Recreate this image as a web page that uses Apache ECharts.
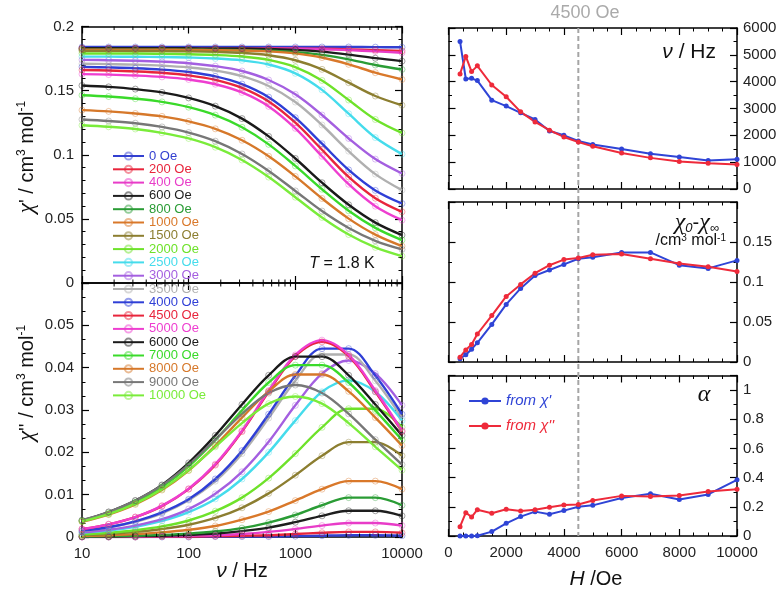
<!DOCTYPE html>
<html><head><meta charset="utf-8">
<script src="https://cdn.jsdelivr.net/npm/echarts@6/dist/echarts.min.js"></script>
<style>html,body{margin:0;padding:0;background:#fff}#c{width:784px;height:590px}</style>
</head><body><div id="c"></div><script>
// ---------- data: left panels (frequency in Hz) ----------
const freqs = [10, 17.78, 31.62, 56.23, 100, 177.8, 316.2, 562.3, 1000, 1778, 3162, 5623, 10000];
const fieldLabels = ['0 Oe','200 Oe','400 Oe','600 Oe','800 Oe','1000 Oe','1500 Oe','2000 Oe','2500 Oe','3000 Oe','3500 Oe','4000 Oe','4500 Oe','5000 Oe','6000 Oe','7000 Oe','8000 Oe','9000 Oe','10000 Oe'];
const logTickLabels = ['10','100','1000','10000'];

// chi' (cm3/mol) at freqs
const chi1_0     = [0.184,0.184,0.184,0.184,0.184,0.184,0.184,0.184,0.184,0.184,0.184,0.1839,0.1838];
const chi1_200   = [0.183,0.183,0.183,0.183,0.183,0.183,0.183,0.183,0.1828,0.1826,0.1822,0.1816,0.181];
const chi1_400   = [0.183,0.183,0.183,0.183,0.183,0.183,0.1829,0.1828,0.1827,0.1823,0.1816,0.1806,0.1795];
const chi1_600   = [0.183,0.183,0.183,0.183,0.183,0.1829,0.1828,0.1824,0.1818,0.1804,0.1781,0.1753,0.173];
const chi1_800   = [0.182,0.182,0.182,0.1819,0.1819,0.1818,0.1815,0.1811,0.18,0.1779,0.1744,0.17,0.1665];
const chi1_1000  = [0.182,0.182,0.1819,0.1819,0.1818,0.1816,0.1813,0.1806,0.179,0.1758,0.1705,0.164,0.1587];
const chi1_1500  = [0.181,0.181,0.1809,0.1808,0.1806,0.1802,0.1794,0.1776,0.1737,0.1666,0.1562,0.1458,0.1386];
const chi1_2000  = [0.179,0.1789,0.1789,0.1787,0.1784,0.1778,0.1766,0.174,0.1684,0.1579,0.1427,0.1275,0.117];
const chi1_2500  = [0.1765,0.1765,0.1764,0.1762,0.1758,0.1751,0.1736,0.1704,0.1635,0.1506,0.132,0.1134,0.1005];
const chi1_3000  = [0.174,0.1737,0.1733,0.1726,0.1714,0.1691,0.1653,0.1583,0.1471,0.131,0.1127,0.0966,0.0854];
const chi1_3500  = [0.171,0.1707,0.1703,0.1695,0.1681,0.1657,0.1613,0.1536,0.1411,0.1232,0.1028,0.0849,0.0724];
const chi1_4000  = [0.1685,0.1681,0.1675,0.1664,0.1645,0.1611,0.1551,0.1449,0.1289,0.1086,0.0882,0.0722,0.062];
const chi1_4500  = [0.1661,0.1657,0.165,0.1639,0.1619,0.1584,0.1522,0.1416,0.125,0.1039,0.0827,0.0661,0.0555];
const chi1_5000  = [0.1629,0.1625,0.1618,0.1607,0.1587,0.155,0.1486,0.1377,0.1206,0.0988,0.077,0.0599,0.049];
const chi1_6000  = [0.154,0.1529,0.1512,0.1486,0.1443,0.1379,0.1282,0.1143,0.0971,0.0782,0.061,0.0471,0.0374];
const chi1_7000  = [0.1464,0.1454,0.1437,0.1412,0.1371,0.1309,0.1214,0.1081,0.0913,0.0731,0.0563,0.043,0.0335];
const chi1_8000  = [0.1348,0.1338,0.1322,0.1299,0.126,0.1202,0.1113,0.0988,0.0831,0.0659,0.0502,0.0377,0.0288];
const chi1_9000  = [0.1275,0.1263,0.1246,0.1217,0.1173,0.1106,0.1006,0.0874,0.0718,0.0561,0.0429,0.0329,0.0262];
const chi1_10000 = [0.123,0.1218,0.1201,0.1171,0.1127,0.1059,0.0959,0.0826,0.0669,0.0511,0.0378,0.0278,0.021];

// chi'' (cm3/mol) at freqs
const chi2_0     = [0,0,0,0,0,0.0001,0.0001,0.0001,0.0002,0.0003,0.0004,0.0004,0.0003];
const chi2_200   = [0,0,0,0.0001,0.0001,0.0002,0.0003,0.0004,0.0007,0.001,0.0012,0.0012,0.001];
const chi2_400   = [0,0.0001,0.0001,0.0002,0.0003,0.0004,0.0007,0.0012,0.0019,0.0027,0.0033,0.0033,0.0027];
const chi2_600   = [0.0001,0.0001,0.0002,0.0003,0.0005,0.0008,0.0014,0.0022,0.0035,0.005,0.0062,0.0062,0.005];
const chi2_800   = [0.0001,0.0002,0.0003,0.0005,0.0008,0.0013,0.0021,0.0034,0.0052,0.0075,0.0093,0.0093,0.0075];
const chi2_1000  = [0.0003,0.0004,0.0007,0.0011,0.0017,0.0026,0.0041,0.006,0.0086,0.0113,0.0132,0.0132,0.0113];
const chi2_1500  = [0.0005,0.0007,0.0012,0.0019,0.0029,0.0045,0.0069,0.0103,0.0146,0.0192,0.0224,0.0224,0.0192];
const chi2_2000  = [0.0006,0.001,0.0016,0.0025,0.0039,0.0061,0.0093,0.0139,0.0197,0.0259,0.0303,0.0303,0.0259];
const chi2_2500  = [0.001,0.0015,0.0024,0.0038,0.0059,0.009,0.0137,0.02,0.0275,0.0343,0.037,0.0343,0.0275];
const chi2_3000  = [0.0011,0.0017,0.0027,0.0042,0.0066,0.0102,0.0154,0.0225,0.0311,0.0386,0.0417,0.0386,0.0311];
const chi2_3500  = [0.0014,0.0023,0.0036,0.0056,0.0087,0.0132,0.0197,0.0281,0.0369,0.0431,0.0431,0.0369,0.0281];
const chi2_4000  = [0.0015,0.0023,0.0037,0.0058,0.0089,0.0137,0.0204,0.029,0.0381,0.0445,0.0445,0.0381,0.029];
const chi2_4500  = [0.0019,0.003,0.0047,0.0073,0.0113,0.017,0.0249,0.0343,0.0427,0.0461,0.0427,0.0343,0.0249];
const chi2_5000  = [0.0019,0.003,0.0047,0.0074,0.0114,0.0172,0.0251,0.0346,0.043,0.0465,0.043,0.0346,0.0251];
const chi2_6000  = [0.0039,0.0059,0.0086,0.0123,0.0175,0.024,0.0313,0.0382,0.0426,0.0426,0.0382,0.0313,0.024];
const chi2_7000  = [0.0038,0.0056,0.0082,0.0118,0.0167,0.0229,0.0299,0.0365,0.0406,0.0406,0.0365,0.0299,0.0229];
const chi2_8000  = [0.0036,0.0053,0.0077,0.0111,0.0157,0.0216,0.0282,0.0344,0.0384,0.0384,0.0344,0.0282,0.0216];
const chi2_9000  = [0.004,0.0059,0.0086,0.0122,0.0171,0.023,0.0291,0.034,0.0359,0.034,0.0291,0.023,0.0171];
const chi2_10000 = [0.0037,0.0054,0.0079,0.0113,0.0158,0.0213,0.0269,0.0315,0.0332,0.0315,0.0269,0.0213,0.0158];

// ---------- data: right panels (field in Oe) ----------
const fieldH = [400,600,800,1000,1500,2000,2500,3000,3500,4000,4500,5000,6000,7000,8000,9000,10000];
const nuFromChi1 = [5500,4100,4125,4040,3310,3090,2840,2590,2160,2000,1790,1660,1490,1310,1190,1060,1110];
const nuFromChi2 = [4290,4940,4375,4590,3875,3440,2875,2500,2190,1940,1750,1590,1340,1160,1025,960,910];
const dchiFromChi1 = [0.004,0.009,0.016,0.024,0.047,0.072,0.092,0.108,0.115,0.122,0.129,0.131,0.137,0.137,0.121,0.117,0.127];
const dchiFromChi2 = [0.006,0.015,0.022,0.035,0.058,0.082,0.097,0.111,0.121,0.128,0.130,0.134,0.135,0.129,0.123,0.119,0.113];
const alphaFromChi1 = [0,0,0,0.002,0.03,0.087,0.133,0.167,0.149,0.174,0.2,0.21,0.26,0.29,0.25,0.285,0.385];
const alphaFromChi2 = [0.064,0.16,0.13,0.18,0.156,0.183,0.172,0.18,0.197,0.213,0.216,0.243,0.275,0.27,0.277,0.305,0.32];
const markedField = 4500;

// ---------- styles ----------
const fieldColors = ['#3340d0','#e8253c','#e83cc8','#1e1e1e','#2a9c35','#d9782a','#8c7e30','#6ee22a','#45dcec','#a45fe0','#b0b0b0','#2f3fd6','#e8253c','#ee3ed0','#1a1a1a','#3ada2a','#d6782a','#777777','#7aec3a'];
const BLUE = '#2f44d6', RED = '#ee2a3a';
const FONT = 'Liberation Sans, Arial, sans-serif';
const SERIF = 'Liberation Serif, DejaVu Serif, serif';

const chi1List = [chi1_0,chi1_200,chi1_400,chi1_600,chi1_800,chi1_1000,chi1_1500,chi1_2000,chi1_2500,chi1_3000,chi1_3500,chi1_4000,chi1_4500,chi1_5000,chi1_6000,chi1_7000,chi1_8000,chi1_9000,chi1_10000];
const chi2List = [chi2_0,chi2_200,chi2_400,chi2_600,chi2_800,chi2_1000,chi2_1500,chi2_2000,chi2_2500,chi2_3000,chi2_3500,chi2_4000,chi2_4500,chi2_5000,chi2_6000,chi2_7000,chi2_8000,chi2_9000,chi2_10000];

// minor tick positions of the log axis (2..9 x 10^n)
const minorLog = [];
[10,100,1000].forEach(d => { for (let k = 2; k <= 9; k++) minorLog.push(k * d); });

function ls(w){ return {color:'#000', width:w}; }
function labelStyle(extra){ return Object.assign({show:true, fontSize:15, fontFamily:FONT, color:'#222'}, extra); }
function xLog(grid, pos, labels){
  return {type:'log', logBase:10, min:10, max:10000, gridIndex:grid, position:pos,
    axisLine:{show:true, onZero:false, lineStyle:ls(1.5)},
    axisTick:{show:true, inside:true, length:7, lineStyle:ls(1.2)},
    axisLabel: labels ? labelStyle({margin:9, showMinLabel:true, showMaxLabel:true, formatter: v => logTickLabels[Math.round(Math.log10(v)) - 1] || ''}) : {show:false},
    splitLine:{show:false}};
}
function vAxis(grid, pos, min, max, interval, split, labels, fmt, margin){
  return {type:'value', gridIndex:grid, position:pos, min, max, interval,
    axisLine:{show:true, onZero:false, lineStyle:ls(1.5)},
    axisTick:{show:true, inside:true, length:7, lineStyle:ls(1.2)},
    minorTick:{show:true, splitNumber:split, length:3.5, lineStyle:ls(1)},
    axisLabel: labels ? labelStyle({margin:margin || 8, showMinLabel:true, showMaxLabel:true, formatter:fmt}) : {show:false},
    splitLine:{show:false}, minorSplitLine:{show:false}};
}

const grids = [
  {left:82, top:26.5, width:320, height:256.5},
  {left:82, top:283, width:320, height:254},
  {left:448.5, top:28, width:288.5, height:161},
  {left:448.5, top:202, width:288.5, height:160},
  {left:448.5, top:375.5, width:288.5, height:160.5}
];

const xAxes = [
  xLog(0,'bottom',false), xLog(0,'top',false),
  xLog(1,'bottom',true), xLog(1,'top',false),
  vAxis(2,'bottom',0,10000,2000,4,false), vAxis(2,'top',0,10000,2000,4,false),
  vAxis(3,'bottom',0,10000,2000,4,false), vAxis(3,'top',0,10000,2000,4,false),
  vAxis(4,'bottom',0,10000,2000,4,true, v => String(v), 9), vAxis(4,'top',0,10000,2000,4,false)
];
const yAxes = [
  vAxis(0,'left',0,0.2,0.05,5,true, v => String(+v.toFixed(2))), vAxis(0,'right',0,0.2,0.05,5,false),
  vAxis(1,'left',0,0.06,0.01,3,true, v => v > 0.055 ? '' : String(+v.toFixed(2))), vAxis(1,'right',0,0.06,0.01,3,false),
  vAxis(2,'right',0,6000,1000,2,true, v => String(v), 6), vAxis(2,'left',0,6000,1000,2,false),
  vAxis(3,'right',0,0.2,0.05,2,true, v => v > 0.17 ? '' : String(+v.toFixed(2)), 6), vAxis(3,'left',0,0.2,0.05,2,false),
  vAxis(4,'right',0,1.1,0.2,2,true, v => v > 1.05 ? '' : String(+v.toFixed(1)), 6), vAxis(4,'left',0,1.1,0.2,2,false)
];

const series = [];
fieldLabels.forEach((name, i) => {
  const c = fieldColors[i];
  const common = {type:'line', name, smooth:0.35, symbol:'circle', symbolSize:6, showSymbol:true,
    lineStyle:{color:c, width:2.4}, itemStyle:{color:'rgba(255,255,255,0)', borderColor:c, borderWidth:0.8, opacity:0.5},
    emphasis:{disabled:true}, silent:true, z:2};
  series.push(Object.assign({}, common, {xAxisIndex:0, yAxisIndex:0, data: freqs.map((f, j) => [f, chi1List[i][j]])}));
  series.push(Object.assign({}, common, {xAxisIndex:2, yAxisIndex:2, data: freqs.map((f, j) => [f, chi2List[i][j]])}));
});
// minor log ticks drawn through the axis scale
[[0,0],[2,2]].forEach(([xi, yi]) => {
  series.push({type:'custom', xAxisIndex:xi, yAxisIndex:yi, silent:true, z:5,
    data: minorLog.map(v => [v, 0]),
    renderItem: (params, api) => {
      const x = api.coord([api.value(0), 0])[0];
      const cs = params.coordSys;
      return {type:'group', children:[
        {type:'line', shape:{x1:x, y1:cs.y, x2:x, y2:cs.y + 3.5}, style:{stroke:'#000', lineWidth:1}},
        {type:'line', shape:{x1:x, y1:cs.y + cs.height, x2:x, y2:cs.y + cs.height - 3.5}, style:{stroke:'#000', lineWidth:1}}
      ]};
    }});
});
const rightSets = [[nuFromChi1, nuFromChi2, 4, 4], [dchiFromChi1, dchiFromChi2, 6, 6], [alphaFromChi1, alphaFromChi2, 8, 8]];
const rightNames = ["from χ'", "from χ''"];
rightSets.forEach(set => {
  [0,1].forEach(k => {
    const c = k === 0 ? BLUE : RED;
    series.push({type:'line', name:rightNames[k], xAxisIndex:set[2], yAxisIndex:set[3], symbol:'circle', symbolSize:5,
      lineStyle:{color:c, width:2}, itemStyle:{color:c}, emphasis:{disabled:true}, silent:true, z:3,
      data: fieldH.map((h, j) => [h, set[k][j]])});
  });
});

const chart = echarts.init(document.getElementById('c'), null, {renderer:'canvas'});
chart.setOption({
  animation:false, backgroundColor:'#fff',
  grid: grids, xAxis: xAxes, yAxis: yAxes, series,
  legend: [
    {left:112, top:149.5, orient:'vertical', itemWidth:31, itemHeight:9, itemGap:0.3, padding:0, selectedMode:false,
      textStyle:{fontSize:13, fontFamily:FONT, lineHeight:13},
      data: fieldLabels.map((n, i) => ({name:n, textStyle:{color:fieldColors[i]}}))},
    {left:468, top:393.5, orient:'vertical', itemWidth:32, itemHeight:9, itemGap:10, padding:0, selectedMode:false,
      textStyle:{fontSize:15, fontFamily:FONT, fontStyle:'italic', lineHeight:13},
      data: [{name:rightNames[0], textStyle:{color:BLUE}}, {name:rightNames[1], textStyle:{color:RED}}]}
  ]
});

const xMark = chart.convertToPixel({xAxisIndex:4}, markedField);
const chiRich = {c:{fontFamily:SERIF, fontStyle:'italic', fontSize:23}, s:{fontSize:12, verticalAlign:'top', fontFamily:FONT}};
function txt(x, y, text, opts){
  return Object.assign({type:'text', x, y, z:10, style:Object.assign({text, fontFamily:FONT, fontSize:20, fill:'#111', align:'center', verticalAlign:'middle'}, opts || {})});
}
chart.setOption({
  graphic: [
    {type:'line', z:1, shape:{x1:xMark, y1:28, x2:xMark, y2:536}, style:{stroke:'#a5a5a5', lineWidth:2, lineDash:[5,3]}},
    Object.assign(txt(27, 157, "{c|χ}' / cm{s|3} mol{s|-1}", {rich:chiRich}), {rotation:Math.PI/2}),
    Object.assign(txt(27, 383, "{c|χ}'' / cm{s|3} mol{s|-1}", {rich:chiRich}), {rotation:Math.PI/2}),
    txt(242, 571, '{i|ν} / Hz', {rich:{i:{fontStyle:'italic', fontSize:21, fontFamily:FONT}}}),
    txt(596, 579, '{i|H} /Oe', {rich:{i:{fontStyle:'italic', fontSize:21, fontFamily:FONT}}}),
    txt(342, 264, '{i|T} = 1.8 K', {fontSize:16, rich:{i:{fontStyle:'italic', fontSize:16, fontFamily:FONT}}}),
    txt(585, 13, '4500 Oe', {fontSize:18, fill:'#aaaaaa'}),
    txt(716, 52, '{i|ν} / Hz', {align:'right', fontSize:21, rich:{i:{fontStyle:'italic', fontSize:21, fontFamily:FONT}}}),
    txt(719, 223, '{c|χ}{b|0}{n|-}{c|χ}{b|∞}', {align:'right', rich:{c:{fontFamily:SERIF, fontStyle:'italic', fontSize:24}, b:{fontFamily:FONT, fontStyle:'italic', fontSize:13, verticalAlign:'bottom'}, n:{fontSize:20, fontFamily:FONT}}}),
    txt(726, 241, '/cm{s|3} mol{s|-1}', {align:'right', fontSize:16, rich:{s:{fontSize:10, verticalAlign:'top', fontFamily:FONT}}}),
    txt(704, 395, 'α', {fontFamily:SERIF, fontStyle:'italic', fontSize:24})
  ]
});
</script></body></html>
